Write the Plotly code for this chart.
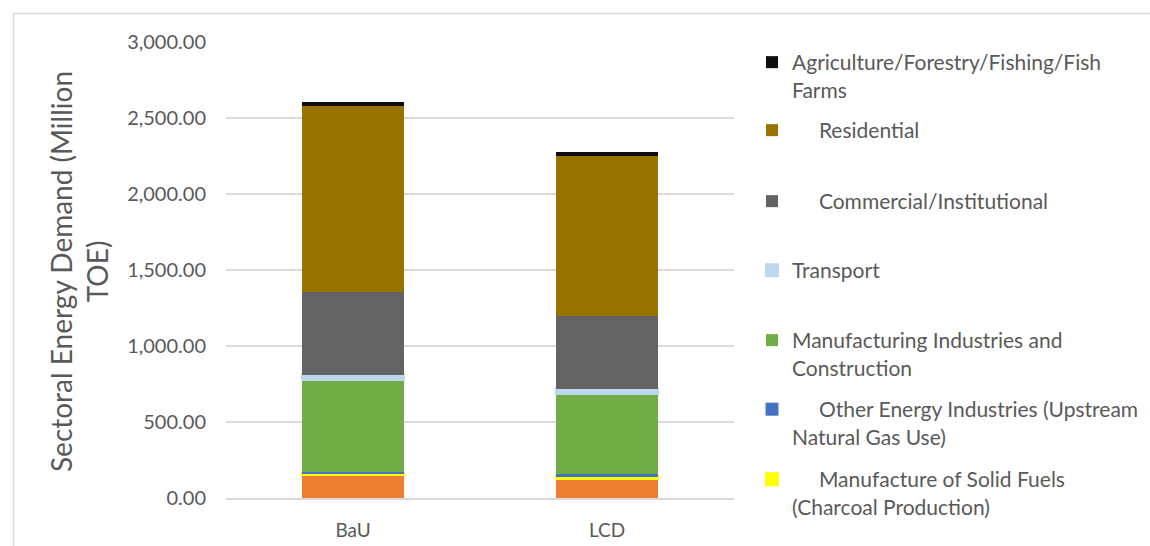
import plotly.graph_objects as go

# Scenarios on the x axis
scenarios = ["BaU", "LCD"]

# Sectoral energy demand (Million TOE), stacked bottom to top
energy_industries = [151, 127]
solid_fuels = [12, 17]
other_energy = [6, 14]
manufacturing = [607, 526]
transport = [30, 31]
commercial = [549, 484]
residential = [1224, 1051]
agriculture = [26, 28]

pad = "\u00a0" * 5
series_names = [
    "Energy Industries",
    pad + "Manufacture of Solid Fuels<br>(Charcoal Production)",
    pad + "Other Energy Industries (Upstream<br>Natural Gas Use)",
    "Manufacturing Industries and<br>Construction",
    "Transport",
    pad + "Commercial/Institutional",
    pad + "Residential",
    "Agriculture/Forestry/Fishing/Fish<br>Farms",
]
series_values = [energy_industries, solid_fuels, other_energy, manufacturing,
                 transport, commercial, residential, agriculture]

colors = ["#ED7D31", "#FFFF00", "#4472C4", "#70AD47",
          "#BDD7EE", "#636363", "#997300", "#0D0D0D"]
outline = [0, 2, 1, 0, 2, 0, 0, 0]
# vertical centre (px from top) of each legend entry's first line
legend_rows = [None, 480, 410, 341, 271, 202, 131, 63]

W, H = 1150, 546
TEXT = "#595959"
FONT = "Lato"

fig = go.Figure()
layout_legends = {}
for i, (name, vals) in enumerate(zip(series_names, series_values)):
    key = None
    if legend_rows[i] is not None:
        key = "legend" if i == 7 else f"legend{i + 1}"
        layout_legends[key] = dict(
            x=752 / W, xref="container", xanchor="left",
            y=1 - (legend_rows[i] - 21) / H, yref="container", yanchor="top",
            bgcolor="rgba(0,0,0,0)", borderwidth=0, valign="top",
            font=dict(family=FONT, size=21, color=TEXT),
        )
    fig.add_trace(go.Bar(
        x=scenarios, y=vals, name=name,
        marker=dict(color=colors[i],
                    line=dict(color=colors[i], width=outline[i])),
        showlegend=key is not None,
        legend=key if key else "legend",
    ))

fig.update_layout(
    width=W, height=H,
    barmode="stack", bargap=0.6,
    paper_bgcolor="white", plot_bgcolor="white",
    margin=dict(l=226, r=W - 734, t=42, b=H - 498, autoexpand=False),
    font=dict(family=FONT, color=TEXT),
    **layout_legends,
)

fig.update_yaxes(
    range=[0, 3000], dtick=500, tickformat=",.2f",
    showgrid=True, gridcolor="#D9D9D9", gridwidth=1.5,
    zeroline=False, showline=False, automargin=False,
    tickfont=dict(family=FONT, size=20, color=TEXT),
    ticklabelstandoff=19,
)
fig.update_xaxes(
    range=[-0.5, 1.5], automargin=False,
    showline=True, linecolor="#D9D9D9", linewidth=1.5,
    tickfont=dict(family=FONT, size=19, color=TEXT),
    ticklabelstandoff=14,
)

# rotated two-line axis title
fig.add_annotation(
    text="Sectoral Energy Demand (Million<br>TOE)",
    xref="paper", yref="paper",
    x=(79 - 226) / 508, y=(498 - 272) / 456,
    xanchor="center", yanchor="middle",
    textangle=-90, showarrow=False, align="center",
    font=dict(family=FONT, size=28, color=TEXT),
)

# chart-area frame
fig.add_shape(
    type="rect", xref="paper", yref="paper",
    x0=(13.5 - 226) / 508, x1=(1170 - 226) / 508,
    y0=(498 - 560) / 456, y1=(498 - 13.5) / 456,
    line=dict(color="#D9D9D9", width=1.5), fillcolor="rgba(0,0,0,0)",
    layer="below",
)

fig.write_html("out.html")
